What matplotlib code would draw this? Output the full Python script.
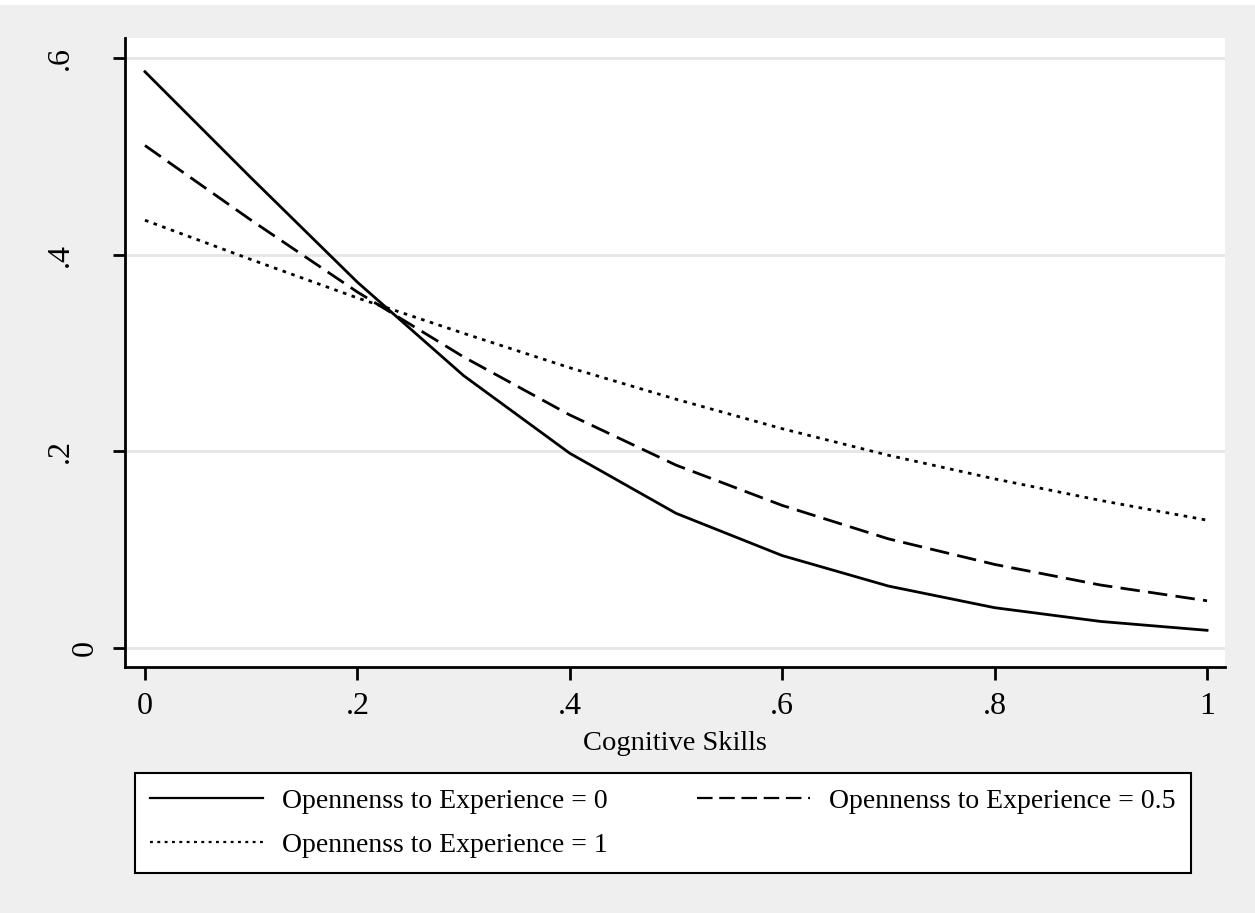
import matplotlib
matplotlib.use("Agg")
import matplotlib.pyplot as plt
from matplotlib.patches import Rectangle

# Data
cognitive = [0.0, 0.1, 0.2, 0.3, 0.4, 0.5, 0.6, 0.7, 0.8, 0.9, 1.0]
open_0 = [0.586, 0.478, 0.372, 0.277, 0.198, 0.137, 0.094, 0.063, 0.041, 0.027, 0.018]
open_05 = [0.511, 0.435, 0.362, 0.296, 0.237, 0.186, 0.145, 0.111, 0.085, 0.064, 0.048]
open_1 = [0.435, 0.395, 0.356, 0.320, 0.285, 0.253, 0.223, 0.196, 0.172, 0.150, 0.130]
labels = ["Opennenss to Experience = 0", "Opennenss to Experience = 0.5", "Opennenss to Experience = 1"]
xticks = [0, 0.2, 0.4, 0.6, 0.8, 1.0]
xticklabels = ["0", ".2", ".4", ".6", ".8", "1"]
yticks = [0, 0.2, 0.4, 0.6]
yticklabels = ["0", ".2", ".4", ".6"]

plt.rcParams['font.family'] = ['Liberation Serif', 'DejaVu Serif']

fig = plt.figure(figsize=(12.55, 9.13), dpi=100)
fig.patch.set_facecolor('#efefef')
fig.patches.append(Rectangle((0, 1 - 5/913), 1, 5/913, transform=fig.transFigure,
                             facecolor='white', edgecolor='none', zorder=0))

ax = fig.add_axes([125/1255, 1 - 667/913, 1100/1255, 629/913])
ax.set_facecolor('white')

l0, = ax.plot(cognitive, open_0, color='black', lw=2.0, linestyle='-')
l05, = ax.plot(cognitive, open_05, color='black', lw=2.0, linestyle=(0, (7, 3)))
l1, = ax.plot(cognitive, open_1, color='black', lw=2.0, linestyle=(0, (1.3, 2)))

ax.set_xlim(-0.0188, 1.0169)
ax.set_ylim(-0.0193, 0.6203)
ax.set_xticks(xticks)
ax.set_xticklabels(xticklabels, fontsize=23)
ax.set_yticks(yticks)
ax.set_yticklabels(yticklabels, fontsize=23, rotation=90, va='center')
ax.grid(axis='y', color='#e6e6e6', lw=2)
ax.set_axisbelow(True)
for s in ['top', 'right']:
    ax.spines[s].set_visible(False)
for s in ['left', 'bottom']:
    ax.spines[s].set_linewidth(2)
ax.tick_params(axis='both', direction='out', length=9, width=2, pad=9)
ax.tick_params(axis='y', pad=27)
ax.yaxis.get_major_ticks()[0].set_pad(9)
ax.set_xlabel("Cognitive Skills", fontsize=20.5, labelpad=7)

leg = fig.legend([l0, l1, l05], [labels[0], labels[2], labels[1]], ncol=2,
                 loc='upper left', bbox_to_anchor=(135/1255, 1 - 773/913),
                 borderaxespad=0, fontsize=20, frameon=True, fancybox=False,
                 framealpha=1, handlelength=4.07, columnspacing=3.2,
                 handletextpad=0.68, borderpad=0.55, labelspacing=0.66)
leg.get_frame().set_edgecolor('black')
leg.get_frame().set_linewidth(1.5)
leg.get_frame().set_facecolor('white')
for h in leg.get_lines():
    h.set_linewidth(1.6)

fig.savefig("out.png", dpi=100, facecolor=fig.get_facecolor())
